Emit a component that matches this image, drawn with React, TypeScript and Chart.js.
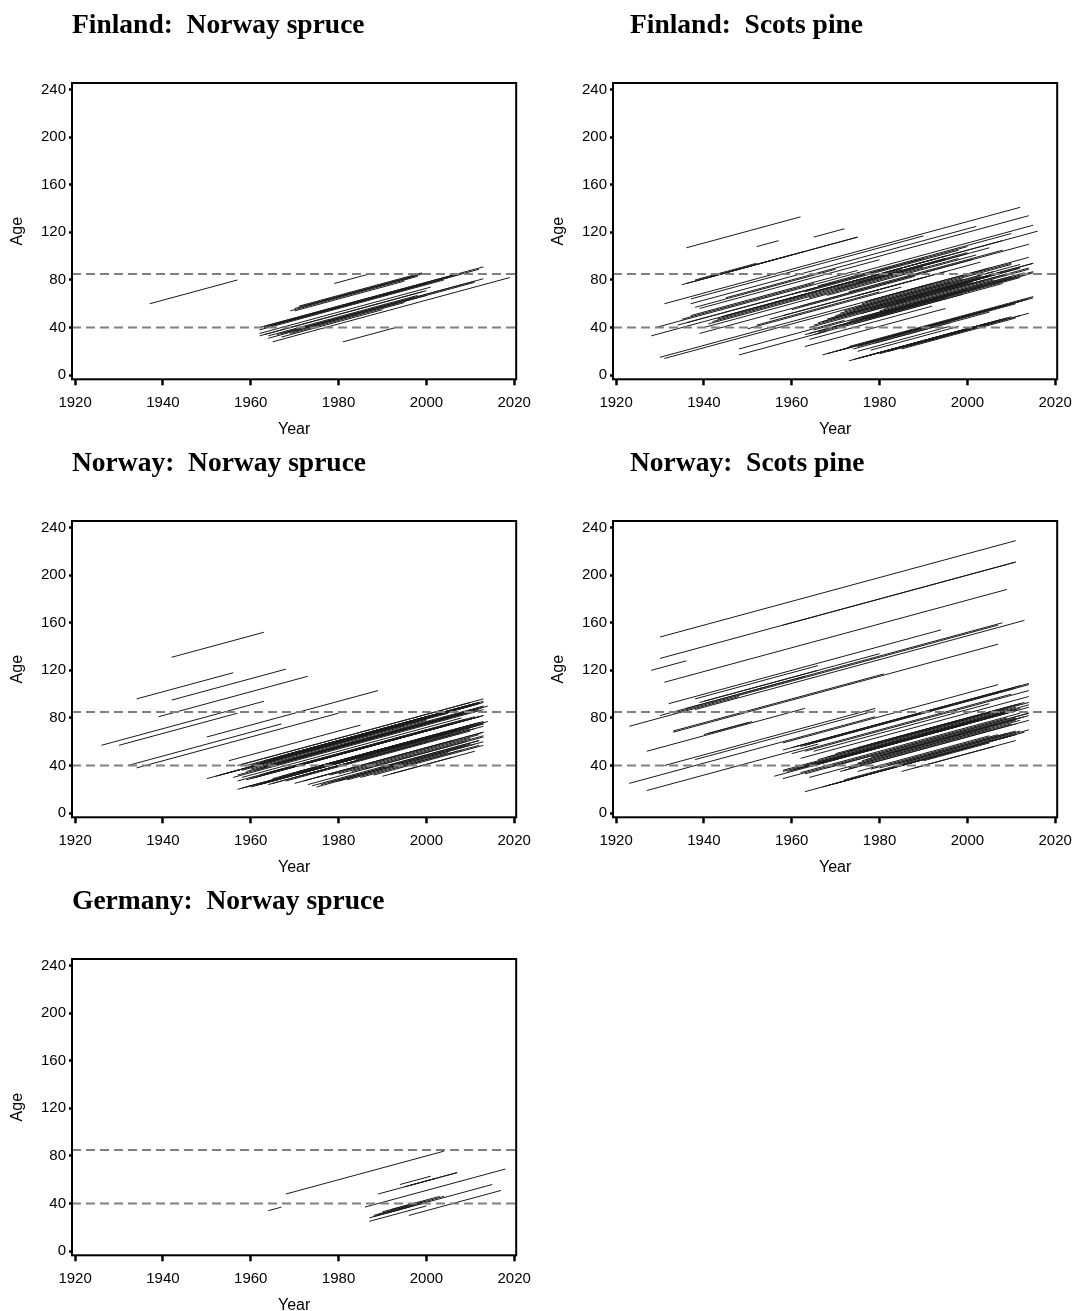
import React, { useEffect, useRef } from "react";
import { Chart, registerables } from "chart.js";

Chart.register(...registerables);

type Seg = [number, number, number, number]; // [startYear, startAge, endYear, endAge]

const yearTicks = [1920, 1940, 1960, 1980, 2000, 2020];
const ageTicks = [0, 40, 80, 120, 160, 200, 240];
const thresholds = [40, 85];

const finlandSpruce: Seg[] = [
  [1937, 60, 1957, 80], [1979, 77, 1987, 85], [1981, 28, 1993, 40],
  [1969, 54, 1998, 83], [1970, 56, 1999, 85], [1971, 57, 1998, 84], [1971, 58, 1999, 86],
  [1972, 58, 1997, 83], [1973, 59, 1996, 82], [1970, 54, 1995, 79],
  [1962, 40, 2006, 84], [1963, 41, 2013, 91], [1963, 40, 2005, 82], [1965, 42, 2012, 89],
  [1964, 41, 2008, 85], [1966, 43, 2000, 77], [1968, 45, 2002, 79], [1962, 38, 2004, 80],
  [1962, 33, 1999, 70], [1962, 35, 2001, 74], [1963, 34, 2000, 71], [1964, 33, 1998, 67],
  [1966, 34, 2011, 79], [1967, 35, 2013, 81], [1968, 36, 1997, 65], [1970, 37, 2000, 67],
  [1965, 28, 2019, 82], [1964, 31, 2011, 78], [1967, 32, 1990, 55], [1969, 35, 1995, 61],
];

const finlandPine: Seg[] = [
  [1936, 107, 1962, 133], [1952, 108, 1957, 113], [1965, 116, 1972, 123],
  [1935, 76, 1975, 116], [1936, 77, 1975, 116], [1938, 80, 1952, 94], [1938, 79, 1960, 101],
  [1940, 81, 1963, 104], [1931, 60, 2012, 141], [1937, 60, 2002, 125], [1937, 64, 1990, 117],
  [1938, 57, 1970, 89], [1929, 40, 2015, 126], [1928, 33, 2016, 121], [1945, 65, 2014, 134],
  [1934, 42, 1990, 98], [1939, 35, 2014, 110], [1940, 40, 1998, 98], [1941, 43, 1995, 97],
  [1942, 45, 2000, 103], [1943, 47, 1985, 89], [1944, 49, 1992, 97], [1945, 50, 2008, 113],
  [1936, 44, 1970, 78], [1935, 47, 1965, 77], [1937, 50, 1975, 88], [1939, 56, 1980, 97],
  [1955, 60, 1995, 100], [1960, 68, 2000, 108], [1963, 70, 1998, 105], [1966, 75, 2010, 119],
  [1930, 15, 2014, 99], [1931, 14, 2010, 93], [1948, 22, 1972, 46], [1948, 17, 1968, 37],
  [1963, 34, 2015, 86], [1964, 35, 2014, 85], [1964, 40, 2014, 90], [1965, 38, 2010, 83],
  [1965, 42, 2000, 77], [1966, 44, 2005, 83], [1966, 36, 1995, 65], [1967, 45, 2012, 90],
  [1968, 47, 1998, 77], [1969, 48, 2008, 87], [1970, 50, 2003, 83], [1971, 52, 2012, 93],
  [1972, 54, 1996, 78], [1973, 52, 2015, 94], [1974, 55, 2006, 87], [1975, 57, 1999, 81],
  [1976, 60, 2010, 94], [1977, 62, 2005, 90], [1978, 63, 1992, 77], [1973, 45, 2000, 72],
  [1974, 43, 2008, 77], [1975, 46, 2002, 73], [1976, 48, 2015, 87], [1977, 47, 2012, 82],
  [1978, 50, 2010, 82], [1979, 51, 1998, 70], [1980, 54, 2006, 80], [1981, 56, 2014, 89],
  [1982, 58, 2004, 80], [1970, 41, 1997, 68], [1972, 43, 2011, 82], [1974, 47, 2013, 86],
  [1976, 52, 2009, 85], [1978, 55, 2001, 78], [1984, 62, 2012, 90], [1986, 65, 2015, 94],
  [1988, 66, 2003, 81], [1963, 24, 1995, 56], [1964, 30, 1992, 58], [1965, 34, 1999, 68],
  [1967, 17, 2005, 55], [1968, 18, 2000, 50], [1970, 20, 2010, 60], [1971, 21, 2013, 63],
  [1972, 22, 2008, 58], [1973, 24, 2015, 66], [1974, 22, 2005, 53], [1975, 24, 2011, 60],
  [1976, 26, 2002, 52], [1977, 27, 2014, 64], [1978, 28, 2009, 59], [1979, 27, 1996, 44],
  [1980, 30, 2012, 62], [1981, 31, 2000, 50], [1982, 32, 2015, 65], [1983, 33, 2006, 56],
  [1973, 12, 2009, 48], [1974, 13, 2005, 44], [1975, 14, 2008, 47], [1976, 15, 2003, 42],
  [1977, 16, 2010, 49], [1978, 17, 2000, 39], [1980, 18, 2006, 44], [1982, 20, 2004, 42],
  [1985, 22, 2011, 48], [1987, 25, 2012, 50], [1990, 28, 2014, 52], [1975, 20, 1996, 41],
  [1978, 21, 1998, 41], [1950, 39, 1985, 74], [1952, 42, 1980, 70], [1955, 47, 1990, 82],
  [1958, 50, 1995, 87], [1960, 55, 1988, 83], [1962, 58, 2001, 97], [1964, 65, 1990, 91],
  [1968, 67, 2002, 101], [1970, 72, 2005, 107], [1972, 74, 2000, 102], [1975, 78, 1995, 98],
  [1973, 70, 2008, 105], [1975, 67, 2003, 95],
];

const norwaySpruce: Seg[] = [
  [1942, 131, 1963, 152], [1934, 96, 1956, 118], [1942, 95, 1968, 121], [1939, 81, 1973, 115],
  [1926, 57, 1963, 94], [1930, 57, 1957, 84], [1950, 64, 1989, 103], [1932, 40, 1967, 75],
  [1934, 38, 1980, 84], [1950, 29, 1985, 64], [1955, 44, 1985, 74], [1957, 40, 2013, 96],
  [1958, 41, 2010, 93], [1959, 40, 2012, 93], [1960, 40, 2008, 88], [1961, 41, 2011, 91],
  [1962, 42, 2006, 86], [1963, 44, 2012, 93], [1964, 44, 2010, 90], [1965, 46, 2013, 94],
  [1966, 46, 2004, 84], [1967, 48, 2011, 92], [1968, 49, 2009, 90], [1969, 50, 1999, 80],
  [1970, 50, 2012, 92], [1972, 52, 2013, 93], [1960, 37, 2013, 90], [1962, 38, 2010, 86],
  [1963, 39, 2012, 88], [1964, 40, 2013, 89], [1966, 41, 2011, 86], [1968, 44, 2013, 89],
  [1970, 46, 2014, 90], [1958, 36, 2000, 78], [1959, 35, 2005, 81], [1961, 36, 2012, 87],
  [1952, 31, 1995, 74], [1953, 32, 2000, 79], [1954, 33, 2005, 84], [1956, 30, 2013, 87],
  [1957, 32, 2010, 85], [1958, 30, 2008, 80], [1957, 27, 2000, 70], [1959, 28, 2012, 81],
  [1960, 29, 2005, 74], [1961, 30, 2013, 82], [1962, 32, 2011, 81], [1963, 33, 2009, 79],
  [1965, 34, 2012, 81], [1967, 36, 2013, 82], [1957, 20, 2013, 76], [1958, 21, 2010, 73],
  [1959, 22, 2014, 77], [1960, 22, 2007, 69], [1961, 23, 2013, 75], [1962, 24, 2012, 74],
  [1963, 25, 2005, 67], [1964, 24, 2011, 71], [1965, 25, 2013, 73], [1968, 27, 2010, 69],
  [1970, 25, 2013, 68], [1972, 27, 2006, 61], [1973, 24, 2013, 64], [1974, 23, 2012, 61],
  [1975, 22, 2013, 60], [1976, 24, 2010, 58], [1978, 26, 2009, 57], [1980, 27, 2011, 58],
  [1982, 28, 2005, 51], [1985, 30, 2008, 53], [1988, 32, 2013, 57], [1990, 31, 2011, 52],
  [1992, 33, 2006, 47], [1970, 30, 2000, 60], [1972, 32, 2008, 68], [1975, 30, 2013, 68],
  [1978, 32, 2012, 66], [1980, 33, 2010, 63], [1983, 35, 2013, 65], [1986, 37, 2009, 60],
  [1989, 38, 2012, 61], [1995, 40, 2012, 57], [1965, 29, 1995, 59], [1967, 31, 2001, 65],
  [1969, 33, 2004, 68], [1971, 35, 2013, 77], [1974, 38, 2011, 75], [1977, 40, 2008, 71],
  [1980, 42, 2013, 75], [1984, 45, 2010, 71], [1986, 50, 2012, 76],
];

const norwayPine: Seg[] = [
  [1930, 148, 2011, 229], [1930, 130, 2011, 211], [1958, 158, 2011, 211], [1928, 120, 1936, 128],
  [1931, 110, 2009, 188], [1932, 92, 1994, 154], [1930, 82, 2008, 160], [1933, 84, 2007, 158],
  [1938, 87, 2013, 162], [1933, 68, 2007, 142], [1933, 69, 1981, 117], [1938, 96, 1966, 124],
  [1939, 93, 1980, 134], [1940, 94, 1966, 120], [1936, 88, 1963, 115], [1940, 66, 1951, 77],
  [1941, 67, 1950, 76], [1923, 73, 1948, 98], [1927, 52, 1963, 88], [1931, 40, 1979, 88],
  [1938, 45, 1979, 86], [1923, 25, 1979, 81], [1927, 19, 1966, 58], [1958, 59, 2007, 108],
  [1960, 55, 2014, 109], [1961, 56, 2012, 107], [1962, 56, 2014, 108], [1963, 57, 2011, 105],
  [1958, 53, 2008, 103], [1960, 50, 2010, 100], [1963, 52, 2014, 103], [1965, 52, 2005, 92],
  [1958, 35, 2014, 91], [1958, 36, 2011, 89], [1959, 35, 2011, 87], [1960, 36, 2012, 88],
  [1961, 37, 2010, 86], [1962, 38, 2011, 87], [1963, 40, 2008, 85], [1964, 39, 2011, 86],
  [1965, 40, 2010, 85], [1956, 31, 2000, 75], [1958, 29, 2009, 80], [1962, 34, 2012, 84],
  [1963, 33, 2014, 84], [1964, 30, 2005, 71], [1963, 18, 2004, 59], [1967, 22, 2011, 66],
  [1968, 23, 2010, 65], [1970, 25, 2011, 66], [1971, 26, 2013, 68], [1972, 28, 2014, 70],
  [1971, 35, 2011, 75], [1972, 36, 2014, 78], [1973, 38, 2010, 75], [1974, 40, 2012, 78],
  [1975, 42, 2011, 78], [1976, 44, 2013, 81], [1977, 45, 2010, 78], [1978, 47, 2011, 80],
  [1980, 48, 2012, 80], [1982, 50, 2011, 79], [1984, 52, 2014, 82], [1986, 54, 2011, 79],
  [1975, 35, 2005, 65], [1978, 37, 2007, 66], [1980, 38, 2011, 69], [1982, 40, 2009, 67],
  [1984, 41, 2011, 68], [1986, 43, 2012, 69], [1990, 44, 2005, 59], [1985, 35, 2006, 56],
  [1988, 38, 2011, 61], [1966, 45, 2000, 79], [1968, 47, 2009, 88], [1970, 50, 2011, 91],
  [1973, 52, 2014, 93], [1975, 55, 2012, 92], [1978, 58, 2013, 93], [1962, 46, 2014, 98],
  [1975, 50, 2014, 89], [1968, 38, 2014, 84],
];

const germanySpruce: Seg[] = [
  [1964, 34, 1967, 37], [1968, 48, 2004, 84], [1989, 48, 2007, 66], [1996, 55, 2007, 66],
  [1994, 56, 2001, 63], [1995, 54, 2002, 61], [1986, 37, 2018, 69], [1987, 28, 2015, 56],
  [1987, 25, 2000, 38], [1996, 30, 2017, 51], [1988, 30, 2004, 46], [1989, 31, 2000, 42],
  [1990, 33, 2003, 46], [1991, 32, 1999, 40], [1992, 35, 1998, 41], [1988, 29, 1996, 37],
];

const panelTitles = [
  "Finland:  Norway spruce",
  "Finland:  Scots pine",
  "Norway:  Norway spruce",
  "Norway:  Scots pine",
  "Germany:  Norway spruce",
];
const panelSegs = [finlandSpruce, finlandPine, norwaySpruce, norwayPine, germanySpruce];

// layout (page positions of each panel's canvas)
const layout = [
  { left: 0, top: 0, titleX: 72 },
  { left: 541, top: 0, titleX: 89 },
  { left: 0, top: 438, titleX: 72 },
  { left: 541, top: 438, titleX: 89 },
  { left: 0, top: 876, titleX: 72 },
];

const X_MIN = 1919.3;
const X_MAX = 2020.45;
const Y_MIN = -3.5;
const Y_MAX = 245.5;
const CW = 540;
const CH = 440;
const AREA_LEFT = 72;
const AREA_TOP = 83;
const AREA_W = 445;
const AREA_H = 296.3;

const framePlugin = {
  id: "frame",
  afterDatasetsDraw(chart: any) {
    const { ctx, chartArea } = chart;
    ctx.save();
    ctx.strokeStyle = "#000";
    ctx.lineWidth = 2;
    ctx.strokeRect(chartArea.left, chartArea.top, chartArea.right - chartArea.left, chartArea.bottom - chartArea.top);
    ctx.restore();
  },
};

const tickFont = { family: "'Liberation Sans', Arial, sans-serif", size: 15 };
const titleFont = { family: "'Liberation Sans', Arial, sans-serif", size: 16 };

function Panel({ idx }: { idx: number }) {
  const ref = useRef<HTMLCanvasElement>(null);
  useEffect(() => {
    const segs = panelSegs[idx];
    const pts: any[] = [];
    segs.forEach(([x1, y1, x2, y2]) => {
      pts.push({ x: x1, y: y1 }, { x: x2, y: y2 }, { x: x2, y: null });
    });
    const datasets: any[] = [
      {
        data: pts,
        borderColor: "#1a1a1a",
        borderWidth: 1,
        pointRadius: 0,
        spanGaps: false,
        tension: 0,
        order: 2,
      },
      ...thresholds.map((t) => ({
        data: [
          { x: X_MIN, y: t },
          { x: X_MAX, y: t },
        ],
        borderColor: "#808080",
        borderWidth: 2,
        borderDash: [9, 5],
        pointRadius: 0,
        order: 1,
      })),
    ];
    const chart = new Chart(ref.current as HTMLCanvasElement, {
      type: "line",
      data: { datasets },
      options: {
        responsive: false,
        animation: false,
        events: [],
        layout: { padding: { top: AREA_TOP, left: 0, right: CW - AREA_LEFT - AREA_W, bottom: 0 } },
        plugins: { legend: { display: false }, tooltip: { enabled: false }, title: { display: false } },
        scales: {
          x: {
            type: "linear",
            min: X_MIN,
            max: X_MAX,
            afterBuildTicks: (s: any) => {
              s.ticks = yearTicks.map((v) => ({ value: v }));
            },
            afterFit: (s: any) => {
              s.height = CH - AREA_TOP - AREA_H;
            },
            border: { display: false },
            grid: {
              display: true,
              drawOnChartArea: false,
              drawTicks: true,
              tickLength: 6,
              tickWidth: 2.5,
              tickColor: "#000",
            },
            ticks: {
              color: "#000",
              font: tickFont,
              padding: 9,
              maxRotation: 0,
              autoSkip: false,
              callback: (v: any) => String(v),
            },
            title: { display: true, text: "Year", color: "#000", font: titleFont, padding: { top: 0, bottom: 1 } },
          },
          y: {
            type: "linear",
            min: Y_MIN,
            max: Y_MAX,
            afterBuildTicks: (s: any) => {
              s.ticks = ageTicks.map((v) => ({ value: v }));
            },
            afterFit: (s: any) => {
              s.width = AREA_LEFT;
            },
            border: { display: false },
            grid: {
              display: true,
              drawOnChartArea: false,
              drawTicks: true,
              tickLength: 3,
              tickWidth: 2.5,
              tickColor: "#000",
            },
            ticks: {
              color: "#000",
              font: tickFont,
              padding: 3,
              autoSkip: false,
              callback: (v: any) => String(v),
            },
            title: { display: true, text: "Age", color: "#000", font: titleFont, padding: { top: 8, bottom: 0 } },
          },
        },
      } as any,
      plugins: [framePlugin],
    });
    return () => chart.destroy();
  }, [idx]);
  const pos = layout[idx];
  return (
    <div style={{ position: "absolute", left: pos.left, top: pos.top, width: CW, height: CH }}>
      <canvas ref={ref} width={CW} height={CH} style={{ display: "block", width: CW, height: CH }} />
      <div
        style={{
          position: "absolute",
          left: pos.titleX,
          top: 9.7,
          fontFamily: "'Liberation Serif', 'Times New Roman', serif",
          fontWeight: "bold",
          fontSize: "27.5px",
          lineHeight: "28px",
          whiteSpace: "pre",
          color: "#000",
        }}
      >
        {panelTitles[idx]}
      </div>
    </div>
  );
}

export default function App() {
  return (
    <div
      style={{
        position: "absolute",
        left: 0,
        top: 0,
        width: 1075,
        height: 1311,
        overflow: "hidden",
        background: "#fff",
      }}
    >
      {panelTitles.map((_, i) => (
        <Panel key={i} idx={i} />
      ))}
    </div>
  );
}
